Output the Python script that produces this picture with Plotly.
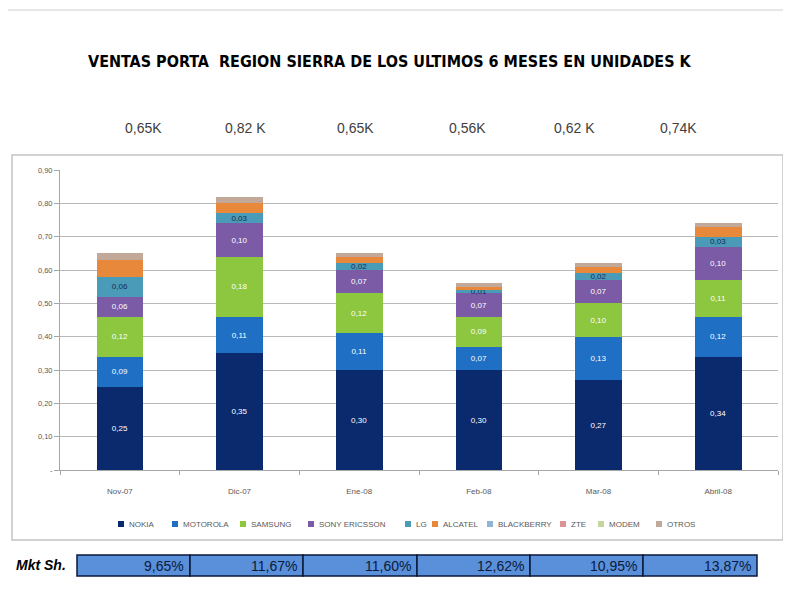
import plotly.graph_objects as go

months = ["Nov-07", "Dic-07", "Ene-08", "Feb-08", "Mar-08", "Abril-08"]
brands = ["NOKIA", "MOTOROLA", "SAMSUNG", "SONY ERICSSON", "LG", "ALCATEL",
          "BLACKBERRY", "ZTE", "MODEM", "OTROS"]

nokia = [0.25, 0.35, 0.30, 0.30, 0.27, 0.34]
motorola = [0.09, 0.11, 0.11, 0.07, 0.13, 0.12]
samsung = [0.12, 0.18, 0.12, 0.09, 0.10, 0.11]
sony = [0.06, 0.10, 0.07, 0.07, 0.07, 0.10]
lg = [0.06, 0.03, 0.02, 0.01, 0.02, 0.03]
alcatel = [0.05, 0.03, 0.02, 0.01, 0.02, 0.03]
blackberry = [0, 0, 0, 0, 0, 0]
zte = [0, 0, 0, 0, 0, 0]
modem = [0, 0, 0, 0, 0, 0]
otros = [0.02, 0.02, 0.01, 0.01, 0.01, 0.01]

totals_labels = ["0,65K", "0,82 K", "0,65K", "0,56K", "0,62 K", "0,74K"]
mkt_share = ["9,65%", "11,67%", "11,60%", "12,62%", "10,95%", "13,87%"]

y_tick_vals = [0, 0.1, 0.2, 0.3, 0.4, 0.5, 0.6, 0.7, 0.8, 0.9]
y_tick_text = ["-", "0,10", "0,20", "0,30", "0,40", "0,50", "0,60", "0,70", "0,80", "0,90"]

series = [nokia, motorola, samsung, sony, lg, alcatel, blackberry, zte, modem, otros]
colors = ["#0B2A6E", "#1F6FC5", "#8DC63F", "#7B5AA6", "#4A9BB8", "#E8883A",
          "#8FB4DA", "#D99694", "#C3D69B", "#C2A898"]
label_colors = ["white", "white", "white", "white", "#1A2A50"]

# page has an 8px body margin: figure coords = page coords - 8
OFF = 8
W, H = 783, 593
L, R, T, B = 60 - OFF, 13, 170 - OFF, 593 - (470 - OFF)
pw, ph = W - L - R, H - T - B


def px(x):
    return (x - OFF - L) / pw


def py(y):
    return (H - B - (y - OFF)) / ph


fig = go.Figure()
for i, (name, vals) in enumerate(zip(brands, series)):
    show_lbl = i < 5
    fig.add_trace(go.Bar(
        x=months, y=vals, name=name,
        marker=dict(color=colors[i], line=dict(width=0)),
        text=[f"{v:.2f}".replace(".", ",") for v in vals] if show_lbl else None,
        textposition="inside" if show_lbl else "none",
        insidetextanchor="middle",
        textfont=dict(size=8, color=label_colors[i] if show_lbl else "white",
                      family="Liberation Sans Narrow, Liberation Sans, Arial"),
        hoverinfo="x+y+name",
    ))

fig.update_layout(
    width=W, height=H,
    barmode="stack", bargap=0.61,
    separators=",.",
    plot_bgcolor="white", paper_bgcolor="white",
    margin=dict(l=L, r=R, t=T, b=B, autoexpand=False),
    uniformtext=dict(minsize=8, mode="show"),
    font=dict(family="Liberation Sans, Arial", color="#595959", size=7),
    showlegend=False,
)

fig.update_yaxes(range=[0, 0.9], tickvals=y_tick_vals, ticktext=y_tick_text,
                 showgrid=True, gridcolor="#B8B8B8", gridwidth=1,
                 showline=True, linecolor="#A6A6A6", linewidth=1,
                 ticks="outside", ticklen=5, tickcolor="#A6A6A6",
                 tickfont=dict(size=7.5, color="#595959"), zeroline=False)
fig.update_xaxes(showline=True, linecolor="#A6A6A6", linewidth=1,
                 ticks="outside", ticklen=4, tickcolor="#A6A6A6", tickson="boundaries",
                 tickfont=dict(size=8, color="#595959"), ticklabelstandoff=13)

shapes = []
annotations = []

# top separator line
shapes.append(dict(type="line", xref="paper", yref="paper",
                   x0=px(0), x1=px(791), y0=py(10), y1=py(10),
                   line=dict(color="#D0D0D0", width=1)))
# chart frame
shapes.append(dict(type="rect", xref="paper", yref="paper",
                   x0=px(12), x1=px(783), y0=py(540), y1=py(155),
                   line=dict(color="#C4C4C4", width=1.5), layer="below"))

# legend (drawn from brand names and colours)
legend_x = [118, 172, 240, 308, 405, 432, 487, 560, 598, 656]
for xl, name, col in zip(legend_x, brands, colors):
    shapes.append(dict(type="rect", xref="paper", yref="paper",
                       x0=px(xl), x1=px(xl + 6), y0=py(527), y1=py(521),
                       fillcolor=col, line=dict(width=0)))
    annotations.append(dict(text=name, xref="paper", yref="paper",
                            x=px(xl + 9), y=py(524), showarrow=False,
                            xanchor="left", yanchor="middle",
                            font=dict(size=8, color="#595959",
                                      family="Liberation Sans Narrow, Liberation Sans, Arial")))

annotations.append(dict(text="<b>VENTAS PORTA  REGION SIERRA DE LOS ULTIMOS 6 MESES EN UNIDADES K</b>",
                        xref="paper", yref="paper", x=px(390), y=py(62),
                        showarrow=False, xanchor="center", yanchor="middle",
                        font=dict(size=16, color="black",
                                  family="Liberation Sans Narrow, DejaVu Sans Condensed, Arial Narrow")))

total_x = [143, 246, 355, 467, 574, 678]
for xc, t in zip(total_x, totals_labels):
    annotations.append(dict(text=t, xref="paper", yref="paper", x=px(xc), y=py(128),
                            showarrow=False, xanchor="center", yanchor="middle",
                            font=dict(size=14, color="#404040",
                                      family="Liberation Sans Narrow, Liberation Sans, Arial")))

annotations.append(dict(text="<b><i>Mkt Sh.</i></b>", xref="paper", yref="paper",
                        x=px(14), y=py(565), showarrow=False, xanchor="left", yanchor="middle",
                        font=dict(size=14, color="black", family="Liberation Sans, Arial")))

cell_edges = [77, 190, 303, 417, 530, 643, 757]
for i, s in enumerate(mkt_share):
    x0, x1 = cell_edges[i], cell_edges[i + 1]
    shapes.append(dict(type="rect", xref="paper", yref="paper",
                       x0=px(x0), x1=px(x1), y0=py(576), y1=py(555),
                       fillcolor="#5A8FDA", line=dict(color="#0A1A3A", width=1.5)))
    annotations.append(dict(text=s, xref="paper", yref="paper", x=px(x1 - 4), y=py(566),
                            showarrow=False, xanchor="right", yanchor="middle",
                            font=dict(size=14, color="#0A1A3A",
                                      family="Liberation Sans Narrow, Liberation Sans, Arial")))

fig.update_layout(shapes=shapes, annotations=annotations)
fig.write_html("out.html")
